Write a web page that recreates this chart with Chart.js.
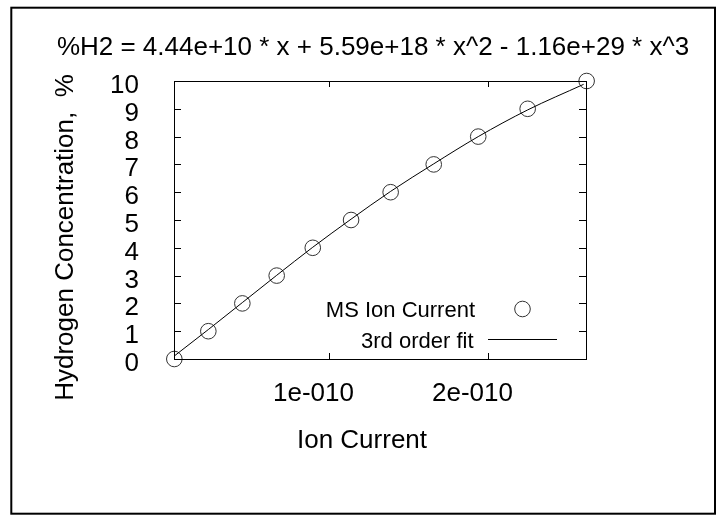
<!DOCTYPE html>
<html>
<head>
<meta charset="utf-8">
<script src="https://cdn.jsdelivr.net/npm/chart.js@4"></script>
<style>
  html, body { margin: 0; padding: 0; background: #fff; }
</style>
</head>
<body>
<canvas id="fitChart" width="728" height="520"></canvas>
<script>
// measured ion current (A) vs. hydrogen concentration (%)
const ionCurrent = [2.5e-12, 2.39e-11, 4.53e-11, 6.69e-11, 8.96e-11, 1.137e-10, 1.386e-10, 1.657e-10, 1.937e-10, 2.248e-10, 2.619e-10];
const h2Percent = [0, 1, 2, 3, 4, 5, 6, 7, 8, 9, 10];

// 3rd order fit curve at the same currents
const fitCurrent = [2.3e-12, 2.39e-11, 4.53e-11, 6.69e-11, 8.96e-11, 1.137e-10, 1.386e-10, 1.657e-10, 1.937e-10, 2.248e-10, 2.6e-10];
const fitPercent = [0.1, 1.06, 2.03, 3.01, 4.02, 5.03, 6.03, 7.02, 8.0, 8.96, 9.88];

const xTicks = [1e-10, 2e-10];
const xTickLabels = ['1e-010', '2e-010'];
const yTicks = [0, 1, 2, 3, 4, 5, 6, 7, 8, 9, 10];

const titleText = '%H2 = 4.44e+10 * x + 5.59e+18 * x^2 - 1.16e+29 * x^3';
const FONT = '"Liberation Sans", Arial, sans-serif';

// gnuplot style frame, mirrored inward ticks, labels and key
const gnuplotFrame = {
    id: 'gnuplotFrame',
    beforeDraw(chart) {
        const ctx = chart.ctx;
        ctx.save();
        ctx.fillStyle = '#fff';
        ctx.fillRect(0, 0, chart.width, chart.height);
        ctx.restore();
    },
    afterDraw(chart) {
        const ctx = chart.ctx;
        const a = chart.chartArea;
        const xs = chart.scales.x, ys = chart.scales.y;
        ctx.save();

        // outer border
        ctx.strokeStyle = '#000';
        ctx.lineWidth = 2;
        ctx.strokeRect(11.3, 7.7, 703.7, 506);

        // plot frame
        ctx.lineWidth = 1;
        ctx.strokeRect(a.left + 0.5, a.top + 0.5, a.right - a.left, a.bottom - a.top);

        ctx.fillStyle = '#000';
        ctx.textBaseline = 'alphabetic';

        // y ticks + labels
        ctx.font = '26px ' + FONT;
        ctx.textAlign = 'right';
        yTicks.forEach(v => {
            const py = Math.round(ys.getPixelForValue(v)) + 0.5;
            ctx.beginPath();
            ctx.moveTo(a.left, py); ctx.lineTo(a.left + 7, py);
            ctx.moveTo(a.right, py); ctx.lineTo(a.right - 7, py);
            ctx.stroke();
            ctx.fillText(String(v), 139, py + 11.5);
        });

        // x ticks + labels
        ctx.textAlign = 'center';
        xTicks.forEach((v, i) => {
            const px = Math.round(xs.getPixelForValue(v)) + 0.5;
            ctx.beginPath();
            ctx.moveTo(px, a.bottom); ctx.lineTo(px, a.bottom - 6);
            ctx.moveTo(px, a.top); ctx.lineTo(px, a.top + 6);
            ctx.stroke();
            ctx.fillText(xTickLabels[i], px - 16, 400.5);
        });

        // axis titles
        ctx.fillText('Ion Current', 362, 448);
        ctx.save();
        ctx.translate(73, 237.5);
        ctx.rotate(-Math.PI / 2);
        ctx.fillText('Hydrogen Concentration,  %', 0, 0);
        ctx.restore();

        // title
        ctx.fillText(titleText, 373, 55);

        // key
        ctx.font = '22px ' + FONT;
        ctx.textAlign = 'right';
        ctx.fillText('MS Ion Current', 475, 316.5);
        ctx.fillText('3rd order fit', 473.5, 348);
        ctx.strokeStyle = '#333';
        ctx.beginPath();
        ctx.arc(522.5, 309, 7.8, 0, Math.PI * 2);
        ctx.stroke();
        ctx.strokeStyle = '#000';
        ctx.beginPath();
        ctx.moveTo(488, 339.5); ctx.lineTo(557, 339.5);
        ctx.stroke();

        ctx.restore();
    }
};

const ctx = document.getElementById('fitChart').getContext('2d');
const fitChart = new Chart(ctx, {
    type: 'scatter',
    data: {
        datasets: [
            {
                label: '3rd order fit',
                type: 'line',
                data: fitCurrent.map((x, i) => ({ x: x, y: fitPercent[i] })),
                borderColor: '#000',
                borderWidth: 1,
                pointRadius: 0,
                fill: false,
                cubicInterpolationMode: 'monotone',
                clip: false
            },
            {
                label: 'MS Ion Current',
                data: ionCurrent.map((x, i) => ({ x: x, y: h2Percent[i] })),
                pointStyle: 'circle',
                pointRadius: 7.8,
                borderColor: '#333',
                borderWidth: 1,
                backgroundColor: 'rgba(0,0,0,0)',
                clip: false
            }
        ]
    },
    options: {
        responsive: false,
        animation: false,
        events: [],
        layout: {
            padding: { left: 174, top: 81, right: 142, bottom: 161 }
        },
        scales: {
            x: { type: 'linear', min: 2.3e-12, max: 2.615e-10, display: false },
            y: { type: 'linear', min: 0, max: 10, display: false }
        },
        plugins: {
            legend: { display: false },
            tooltip: { enabled: false }
        }
    },
    plugins: [gnuplotFrame]
});
</script>
</body>
</html>
